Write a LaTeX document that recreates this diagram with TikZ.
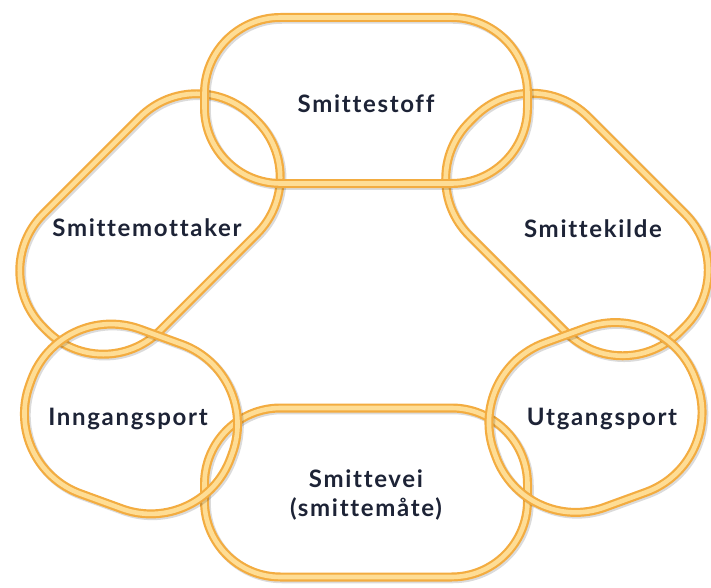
\documentclass[tikz,border=0pt]{standalone}
\usepackage{fontspec}
\setmainfont{Lato}[Ligatures=NoCommon]
\definecolor{bandorange}{HTML}{F3AC40}
\definecolor{bandlight}{HTML}{FEDD95}
\definecolor{txt}{HTML}{1D2336}
\begin{document}
\begin{tikzpicture}[x=1pt,y=-1pt,
  linkbase/.style={rectangle, inner sep=0pt, outer sep=0pt, rounded corners=#1},
  band/.style={draw=bandorange, line width=2.2pt, double=bandlight, double distance=4.6pt},
  shade/.style={draw=black, draw opacity=0.14, line width=9.5pt},
  lab/.style={font=\bfseries\fontsize{24}{29}\selectfont\addfontfeature{LetterSpace=7,Ligatures=NoCommon}, text=txt, align=center, inner sep=0pt}]
\fill[white] (0,0) rectangle (711,588);
\useasboundingbox (0,0) rectangle (711,588);
% Smittemottaker link
\node[linkbase=80pt, shade, minimum width=297pt, minimum height=165pt, rotate=45] (mshadow) at (151.5,225.5) {};
\node[linkbase=80pt, band, minimum width=297pt, minimum height=165pt, rotate=45] (mlink) at (150,224) {};
% Smittekilde link
\node[linkbase=80pt, shade, minimum width=297pt, minimum height=168pt, rotate=-45] (kshadow) at (578.5,226) {};
\node[linkbase=80pt, band, minimum width=297pt, minimum height=168pt, rotate=-45] (klink) at (577,224.5) {};
% Smittevei link
\node[linkbase=76pt, shade, minimum width=323pt, minimum height=169pt] (sshadow) at (367.5,494) {};
\node[linkbase=76pt, band, minimum width=323pt, minimum height=169pt] (slink) at (366,492.5) {};
% Inngangsport link
\node[linkbase=85pt, shade, minimum width=214pt, minimum height=175pt, rotate=-20] (ishadow) at (132.5,420.5) {};
\node[linkbase=85pt, band, minimum width=214pt, minimum height=175pt, rotate=-20] (ilink) at (131,419) {};
% Utgangsport link
\node[linkbase=85pt, shade, minimum width=214pt, minimum height=175pt, rotate=20] (ushadow) at (597,419) {};
\node[linkbase=85pt, band, minimum width=214pt, minimum height=175pt, rotate=20] (ulink) at (595.5,417.5) {};
% Smittestoff link
\node[linkbase=76pt, shade, minimum width=323pt, minimum height=166pt] (tshadow) at (367.5,102) {};
\node[linkbase=76pt, band, minimum width=323pt, minimum height=166pt] (tlink) at (366,100.5) {};
% labels
\node[lab] (tlab) at (366,104) {Smittestoff};
\node[lab] (mlab) at (147,228) {Smittemottaker};
\node[lab] (klab) at (593,229) {Smittekilde};
\node[lab] (ilab) at (128,419) {Inngangsport};
\node[lab] (ulab) at (602,419) {Utgangsport};
\node[lab] (slab) at (366,495) {Smittevei\\(smittemåte)};
\end{tikzpicture}
\end{document}
